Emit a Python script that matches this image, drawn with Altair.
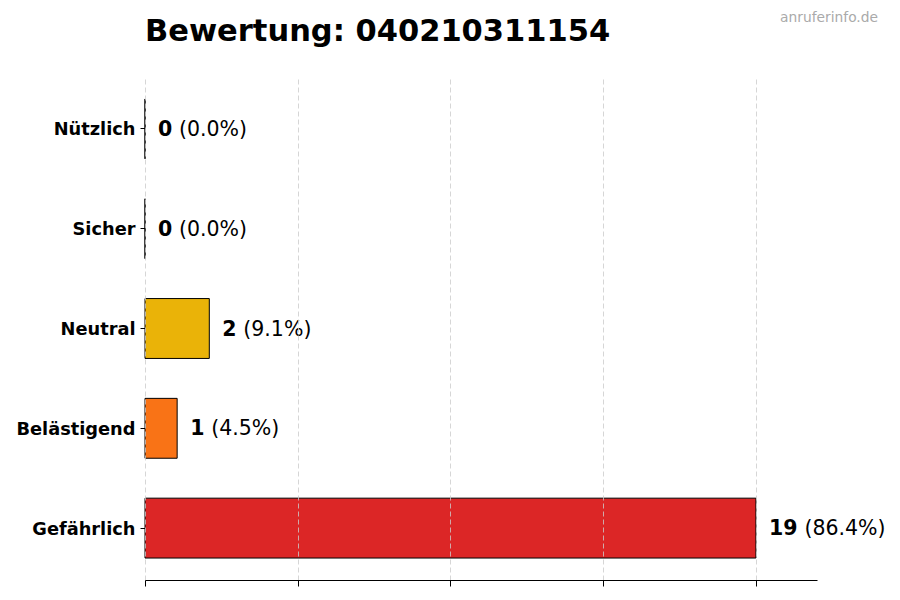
import altair as alt
import pandas as pd

categories = ["Nützlich", "Sicher", "Neutral", "Belästigend", "Gefährlich"]
counts = [0, 0, 2, 1, 19]
percents = ["(0.0%)", "(0.0%)", "(9.1%)", "(4.5%)", "(86.4%)"]
colors = ["#16a34a", "#22c55e", "#eab308", "#f97316", "#dc2626"]
x_ticks = [0, 4.75, 9.5, 14.25, 19]
x_max = 20.9
title_text = "Bewertung: 040210311154"
watermark = "anruferinfo.de"

df = pd.DataFrame({
    "cat": categories,
    "count": counts,
    "pct": percents,
    "color": colors,
    "num": [str(c) for c in counts],
})

FONT = "DejaVu Sans"

y_enc = alt.Y(
    "cat:N",
    sort=categories,
    title=None,
    scale=alt.Scale(paddingInner=0.4, paddingOuter=0.22),
    axis=alt.Axis(
        domain=False,
        ticks=True,
        tickSize=5,
        tickColor="black",
        labelPadding=5,
        labelFont=FONT,
        labelFontSize=17.8,
        labelFontWeight="bold",
        labelColor="black",
        labelBaseline="middle",
        labelOffset=1.5,
        grid=False,
    ),
)

x_scale = alt.Scale(domain=[0, x_max], nice=False, zero=True)

bars = alt.Chart(df).mark_bar(stroke="black", strokeWidth=1, opacity=1).encode(
    x=alt.X(
        "count:Q",
        scale=x_scale,
        title=None,
        axis=alt.Axis(
            values=x_ticks,
            labels=False,
            ticks=True,
            tickSize=6,
            tickColor="black",
            domain=True,
            domainColor="black",
            domainWidth=1.2,
            grid=True,
            gridColor="#cccccc",
            gridDash=[5, 3],
            gridWidth=0.8,
            zindex=1,
        ),
    ),
    y=y_enc,
    color=alt.Color("color:N", scale=None),
)

num_text = alt.Chart(df).mark_text(
    align="left", baseline="middle", dx=13, dy=1, font=FONT, fontSize=20.5,
    fontWeight="bold", color="black"
).encode(
    x=alt.X("count:Q", scale=x_scale),
    y=alt.Y("cat:N", sort=categories),
    text="num:N",
)

pct_one = alt.Chart(df).transform_filter("datum.count < 10").mark_text(
    align="left", baseline="middle", dx=34, dy=1, font=FONT, fontSize=20.5, color="black"
).encode(
    x=alt.X("count:Q", scale=x_scale),
    y=alt.Y("cat:N", sort=categories),
    text="pct:N",
)

pct_two = alt.Chart(df).transform_filter("datum.count >= 10").mark_text(
    align="left", baseline="middle", dx=48.5, dy=1, font=FONT, fontSize=20.5, color="black"
).encode(
    x=alt.X("count:Q", scale=x_scale),
    y=alt.Y("cat:N", sort=categories),
    text="pct:N",
)

wm = alt.Chart(alt.Data(values=[{"t": watermark}])).mark_text(
    align="right", baseline="alphabetic", font=FONT, fontSize=13.8, color="#aaaaaa"
).encode(
    x=alt.value(733),
    y=alt.value(-55),
    text="t:N",
)

ttl = alt.Chart(alt.Data(values=[{"t": title_text}])).mark_text(
    align="left", baseline="alphabetic", font=FONT, fontSize=30.5,
    fontWeight="bold", color="black"
).encode(
    x=alt.value(0),
    y=alt.value(-36),
    text="t:N",
)

chart = alt.layer(bars, num_text, pct_one, pct_two, wm, ttl).properties(
    width=672,
    height=503,
    padding={"left": 137, "top": 69, "right": 75, "bottom": 12},
    autosize=alt.AutoSizeParams(type="none"),
).configure(background="white").configure_view(stroke=None, strokeWidth=0)

chart.save("out.html", embed_options={"renderer": "svg", "actions": False})
